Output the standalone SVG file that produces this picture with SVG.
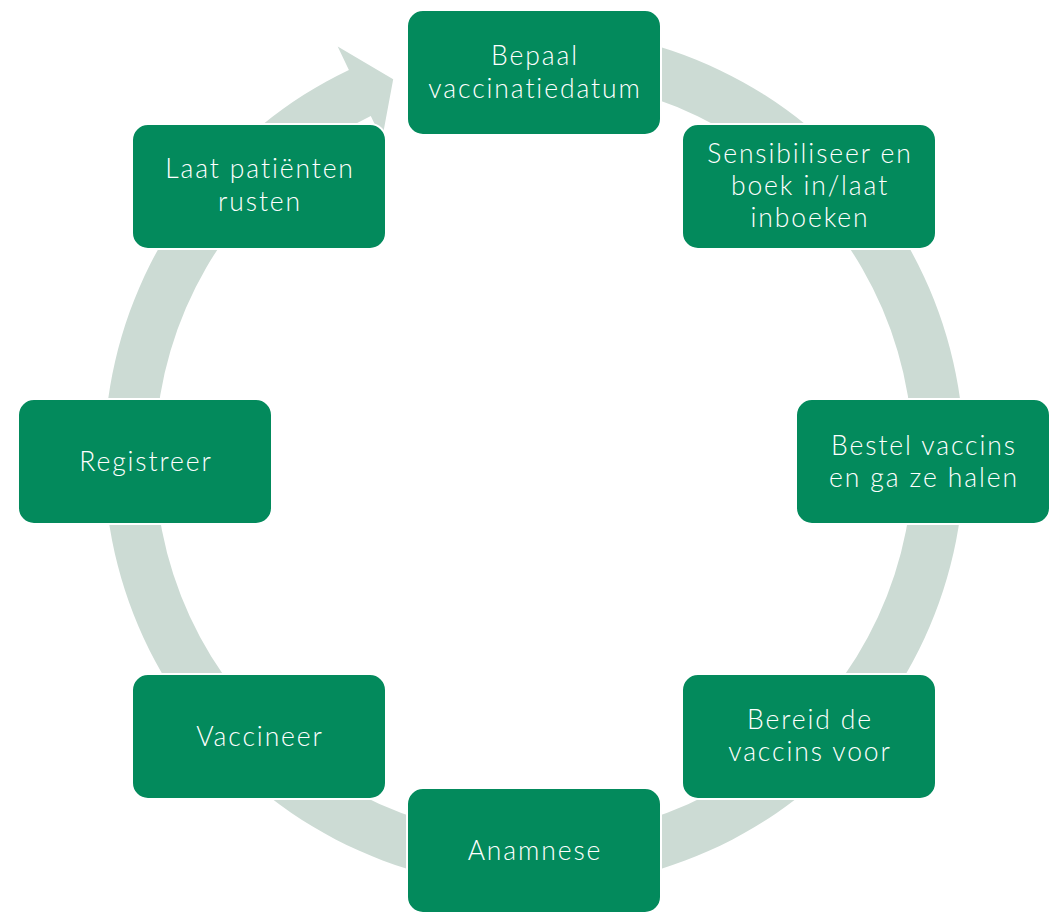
<svg xmlns="http://www.w3.org/2000/svg" width="1051" height="922" viewBox="0 0 1051 922">
<style>
.box{fill:#038A5C;stroke:#FFFFFF;stroke-width:2}
.t{font-family:Lato,"Open Sans","Liberation Sans",sans-serif;font-weight:300;font-size:26.5px;letter-spacing:1.9px;fill:#FFFFFF;text-anchor:middle}
.ring{fill:#CCDBD4}
</style>
<rect width="1051" height="922" fill="#FFFFFF"/>
<g id="connectors">
<path class="ring" d="M571.5,29.6 A430,430 0 1 1 348.9,69.9 L337.7,46.4 L393.2,79.3 L382.0,139.4 L370.8,115.9 A379,379 0 1 0 567.0,80.4 Z"/>
</g>
<g id="n1"><rect class="box" x="407" y="10" width="254" height="125" rx="16"/><text class="t" x="535" y="65">Bepaal</text><text class="t" x="535" y="98">vaccinatiedatum</text></g>
<g id="n2"><rect class="box" x="682" y="124" width="254" height="125" rx="16"/><text class="t" x="810" y="163">Sensibiliseer en</text><text class="t" x="810" y="195">boek in/laat</text><text class="t" x="810" y="227">inboeken</text></g>
<g id="n3"><rect class="box" x="796" y="399" width="254" height="125" rx="16"/><text class="t" x="924" y="455">Bestel vaccins</text><text class="t" x="924" y="487">en ga ze halen</text></g>
<g id="n4"><rect class="box" x="682" y="674" width="254" height="125" rx="16"/><text class="t" x="810" y="729">Bereid de</text><text class="t" x="810" y="761">vaccins voor</text></g>
<g id="n5"><rect class="box" x="407" y="788" width="254" height="125" rx="16"/><text class="t" x="535" y="860">Anamnese</text></g>
<g id="n6"><rect class="box" x="132" y="674" width="254" height="125" rx="16"/><text class="t" x="260" y="746">Vaccineer</text></g>
<g id="n7"><rect class="box" x="18" y="399" width="254" height="125" rx="16"/><text class="t" x="146" y="471">Registreer</text></g>
<g id="n8"><rect class="box" x="132" y="124" width="254" height="125" rx="16"/><text class="t" x="260" y="178">Laat patiënten</text><text class="t" x="260" y="211">rusten</text></g>
</svg>
